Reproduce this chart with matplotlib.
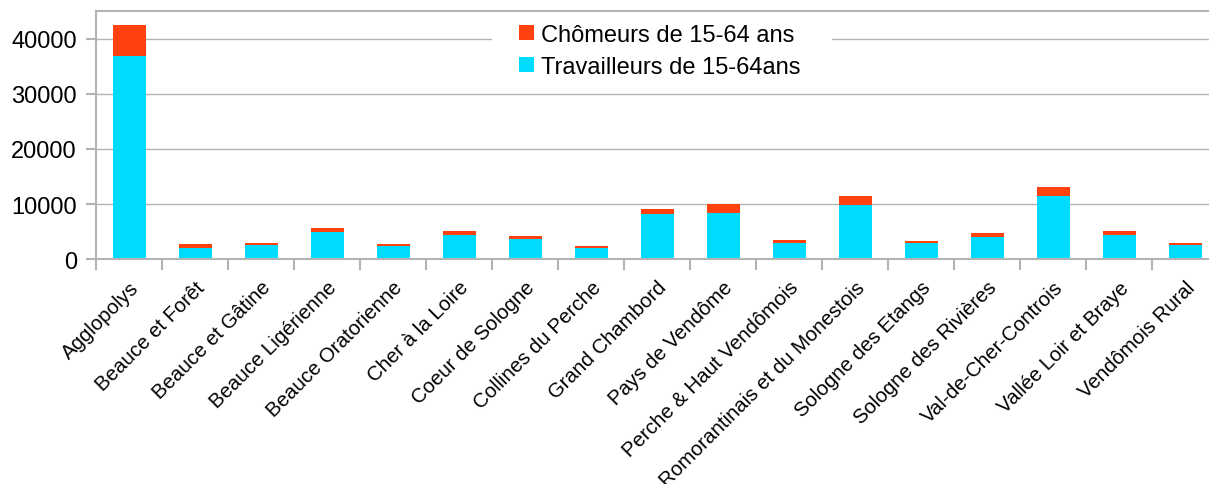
import matplotlib.pyplot as plt
import numpy as np
from matplotlib.patches import Rectangle
from matplotlib.transforms import ScaledTranslation

plt.rcParams['font.family'] = ['Liberation Sans', 'DejaVu Sans']

# Intercommunalités du Loir-et-Cher
territoires = ["Agglopolys", "Beauce et Forêt", "Beauce et Gâtine", "Beauce Ligérienne",
               "Beauce Oratorienne", "Cher à la Loire", "Coeur de Sologne", "Collines du Perche",
               "Grand Chambord", "Pays de Vendôme", "Perche & Haut Vendômois",
               "Romorantinais et du Monestois", "Sologne des Etangs", "Sologne des Rivières",
               "Val-de-Cher-Controis", "Vallée Loir et Braye", "Vendômois Rural"]
travailleurs = [36800, 2050, 2590, 4950, 2410, 4400, 3670, 2050, 8190, 8430, 2950,
                9880, 2950, 4040, 11450, 4400, 2590]
chomeurs = [5600, 730, 370, 720, 370, 780, 550, 420, 910, 1570, 540,
            1570, 360, 720, 1620, 720, 360]

grid_col = '#b3b3b3'
fig = plt.figure(figsize=(12.09, 4.85), dpi=100)
ax = fig.add_axes([96 / 1209, 1 - 260.3 / 485, 1122 / 1209, 248.3 / 485])

x = np.arange(len(territoires))
ax.bar(x, travailleurs, width=0.5, color='#00dcff', label='Travailleurs de 15-64ans', zorder=2)
ax.bar(x, chomeurs, width=0.5, bottom=travailleurs, color='#ff420e',
       label='Chômeurs de 15-64 ans', zorder=2)

ax.set_xlim(-0.5, len(territoires) - 0.5)
ax.set_ylim(0, 45000)
ax.set_yticks(np.arange(0, 40001, 10000))
ax.yaxis.grid(True, color=grid_col, linewidth=1)
ax.axhline(45000, color=grid_col, linewidth=1.5, clip_on=False)
ax.set_axisbelow(True)

ax.set_xticks(x)
ax.set_xticklabels(territoires, rotation=45, ha='right', va='top', rotation_mode='anchor')
shift = ScaledTranslation(-6 / 72, 0, fig.dpi_scale_trans)
for lab in ax.get_xticklabels():
    lab.set_transform(lab.get_transform() + shift)
ax.set_xticks(np.arange(-0.5, len(territoires)), minor=True)
ax.tick_params(axis='x', which='major', length=0, pad=13, labelsize=14.7)
ax.tick_params(axis='x', which='minor', length=8, width=1.5, color=grid_col)
ax.tick_params(axis='y', length=7.2, width=1.5, color=grid_col, pad=6.5, labelsize=17)

for side in ['top', 'right']:
    ax.spines[side].set_visible(False)
for side in ['left', 'bottom']:
    ax.spines[side].set_color(grid_col)
    ax.spines[side].set_linewidth(1.5)

# fond blanc derrière la légende
ax.add_patch(Rectangle((492 / 1209, 1 - 85 / 485), 340 / 1209, 65 / 485,
                       transform=fig.transFigure, facecolor='white', edgecolor='none',
                       zorder=1, clip_on=False))

h, l = ax.get_legend_handles_labels()
leg = ax.legend(h[::-1], l[::-1], loc='center', bbox_to_anchor=(659.5 / 1209, 1 - 52 / 485),
                bbox_transform=fig.transFigure, fontsize=17, frameon=False,
                handlelength=0.63, handleheight=0.63, handletextpad=0.3,
                labelspacing=0.42, borderpad=0)

fig.savefig('out.png', dpi=100)
